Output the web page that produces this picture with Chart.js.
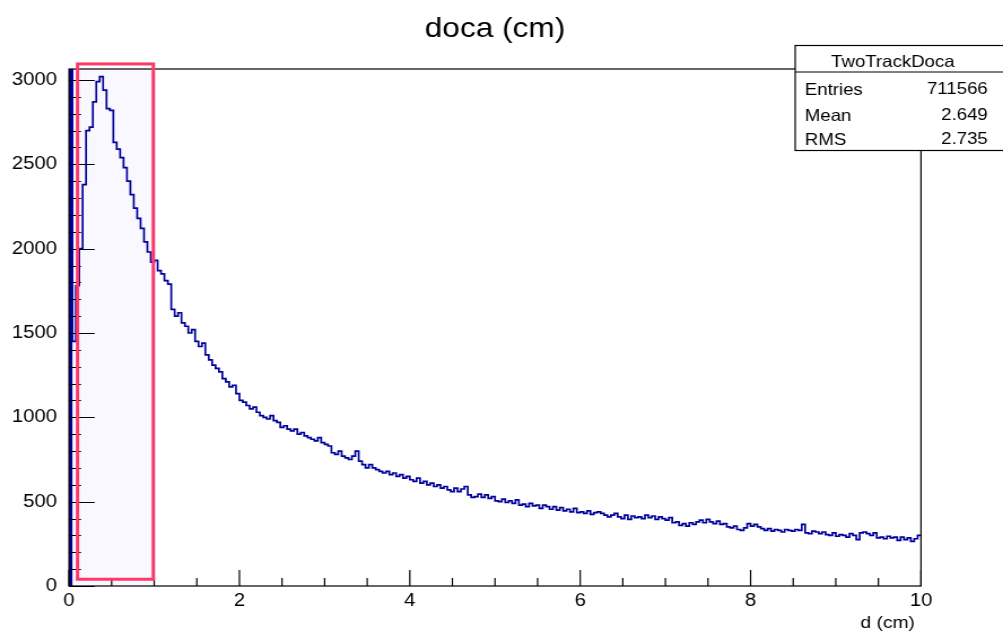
<!DOCTYPE html>
<html>
<head>
<meta charset="utf-8">
<script src="https://cdn.jsdelivr.net/npm/chart.js@4.4.0/dist/chart.umd.min.js"></script>
<style>
  html, body { margin: 0; padding: 0; background: #fff; overflow: hidden; }
  /* the original ROOT canvas was stretched wider than tall */
  #wrap { width: 888px; height: 633px; transform: scaleX(1.1295); transform-origin: 0 0; }
</style>
</head>
<body>
<div id="wrap"><canvas id="hist" width="888" height="633" style="width:888px;height:633px"></canvas></div>
<script>
const plotTitle = 'doca (cm)';
const xTitle = 'd (cm)';
const xMin = 0, xMax = 10;
const yMin = 0, yMax = 3065;
const xTickValues = [0, 2, 4, 6, 8, 10];
const yTickValues = [0, 500, 1000, 1500, 2000, 2500, 3000];

// bin contents, 250 bins of 0.04 cm (first bin runs off the top)
const counts = [
  6000, 1450, 1780, 2000, 2380, 2700, 2720, 2870, 2990, 3020, 2940, 2830, 2820, 2630, 2590, 2540, 2480, 2400, 2320, 2240, 2180, 2120, 2040, 1980, 1920,
  1930, 1870, 1850, 1810, 1790, 1640, 1600, 1620, 1560, 1540, 1500, 1520, 1450, 1420, 1440, 1370, 1340, 1310, 1290, 1270, 1230, 1210, 1180, 1190, 1140,
  1100, 1090, 1070, 1050, 1060, 1030, 1010, 1000, 990, 1010, 980, 970, 940, 950, 930, 920, 930, 900, 910, 890, 880, 870, 860, 880, 850,
  840, 830, 790, 780, 800, 770, 760, 750, 770, 800, 740, 720, 700, 720, 700, 690, 680, 670, 680, 660, 670, 650, 660, 640, 650,
  630, 620, 640, 610, 620, 600, 610, 590, 600, 580, 590, 570, 560, 580, 560, 575, 590, 540, 525, 530, 545, 525, 540, 520, 530,
  505, 500, 515, 495, 505, 490, 510, 480, 485, 470, 490, 475, 480, 460, 480, 470, 455, 470, 450, 465, 445, 455, 440, 460, 435,
  440, 430, 445, 425, 435, 440, 430, 420, 410, 420, 430, 410, 400, 420, 395, 415, 405, 410, 400, 420, 405, 415, 395, 410, 400,
  390, 405, 375, 380, 360, 370, 355, 375, 365, 380, 390, 375, 395, 380, 370, 385, 365, 370, 350, 345, 355, 335, 330, 345, 370,
  355, 365, 350, 340, 330, 340, 325, 335, 330, 320, 335, 330, 325, 335, 330, 365, 315, 310, 325, 320, 310, 320, 305, 300, 315,
  295, 305, 300, 290, 310, 300, 275, 315, 320, 310, 300, 315, 285, 290, 280, 295, 285, 290, 270, 290, 275, 285, 265, 280, 300
];

const statsName = 'TwoTrackDoca';
const statsLabels = ['Entries', 'Mean', 'RMS'];
const statsValues = ['711566', '2.649', '2.735'];

// shaded region and the highlight box drawn over it (data units)
const bandX = [0, 1];
const boxX = [0.1, 0.99];
const boxY = [40, 3095];

const lineColor = '#000099';
const binWidth = (xMax - xMin) / counts.length;

const points = counts.map((c, i) => ({ x: xMin + i * binWidth, y: c }));
points.push({ x: xMax, y: counts[counts.length - 1] });

const font = 'Liberation Sans, Arial, sans-serif';
Chart.defaults.font.family = font;
Chart.defaults.color = '#000';

const rootStyle = {
  id: 'rootStyle',
  beforeDatasetsDraw(chart) {
    const { ctx, chartArea: a, scales: { x, y } } = chart;
    ctx.save();
    ctx.fillStyle = '#f8f8fe';
    const b0 = x.getPixelForValue(bandX[0]), b1 = x.getPixelForValue(bandX[1]);
    ctx.fillRect(b0, a.top, b1 - b0, a.bottom - a.top);
    // off-scale first bin shows as a solid strip
    if (counts[0] > y.max) {
      ctx.fillStyle = lineColor;
      const s1 = x.getPixelForValue(xMin + binWidth);
      ctx.fillRect(a.left, a.top, s1 - a.left, a.bottom - a.top);
    }
    ctx.restore();
  },
  afterDatasetsDraw(chart) {
    const { ctx, chartArea: a, scales: { x, y } } = chart;
    ctx.save();
    ctx.strokeStyle = '#000';
    ctx.lineWidth = 1.2;
    ctx.strokeRect(a.left, a.top, a.right - a.left, a.bottom - a.top);
    ctx.beginPath();
    // ROOT style ticks on the inside: major every 500 / 2, minor every 100 / 0.5
    for (let v = yMin; v <= y.max; v += 100) {
      const py = Math.round(y.getPixelForValue(v)) + 0.5;
      const len = yTickValues.includes(v) ? 22.7 : 10.6;
      ctx.moveTo(a.left, py);
      ctx.lineTo(a.left + len, py);
    }
    for (let v = xMin; v <= xMax + 1e-9; v += 0.5) {
      const px = x.getPixelForValue(v);
      const len = xTickValues.includes(v) ? 16 : 8;
      ctx.moveTo(px, a.bottom);
      ctx.lineTo(px, a.bottom - len);
    }
    ctx.stroke();
    ctx.restore();
  },
  afterDraw(chart) {
    const { ctx, chartArea: a, scales: { x, y }, width } = chart;
    ctx.save();
    // title
    ctx.fillStyle = '#000';
    ctx.font = '28px ' + font;
    ctx.textAlign = 'center';
    ctx.textBaseline = 'alphabetic';
    ctx.fillText(plotTitle, (a.left + a.right) / 2, 37);

    // axis title
    ctx.font = '17px ' + font;
    ctx.textAlign = 'right';
    ctx.fillText(xTitle, 810, 628);

    // highlight box
    ctx.strokeStyle = '#fb3a6a';
    ctx.lineWidth = 3;
    const rx0 = x.getPixelForValue(boxX[0]), rx1 = x.getPixelForValue(boxX[1]);
    const ry0 = y.getPixelForValue(boxY[1]), ry1 = y.getPixelForValue(boxY[0]);
    ctx.strokeRect(rx0, ry0, rx1 - rx0, ry1 - ry0);

    // stats box
    const sx = 704, st = 45.5, sb = 150.5, sep = 72;
    ctx.fillStyle = '#fff';
    ctx.fillRect(sx, st, width - sx + 5, sb - st);
    ctx.strokeStyle = '#000';
    ctx.lineWidth = 1.2;
    ctx.strokeRect(sx, st, width - sx + 5, sb - st);
    ctx.beginPath();
    ctx.moveTo(sx, sep);
    ctx.lineTo(width, sep);
    ctx.stroke();
    ctx.fillStyle = '#000';
    ctx.font = '16.5px ' + font;
    ctx.textAlign = 'center';
    ctx.fillText(statsName, 790.5, 67);
    const rows = [95, 120.5, 145];
    statsLabels.forEach((lab, i) => {
      ctx.textAlign = 'left';
      ctx.fillText(lab, 712.5, rows[i]);
      ctx.textAlign = 'right';
      ctx.fillText(statsValues[i], 874.5, rows[i] - 1);
    });
    ctx.restore();
  }
};

new Chart(document.getElementById('hist'), {
  type: 'line',
  data: {
    datasets: [{
      data: points,
      stepped: 'before',
      borderColor: lineColor,
      borderWidth: 1.7,
      pointRadius: 0,
      fill: false,
      tension: 0
    }]
  },
  options: {
    responsive: false,
    animation: false,
    devicePixelRatio: 1,
    layout: { padding: { top: 69, right: 72.6, left: 0, bottom: 0 } },
    plugins: { legend: { display: false }, tooltip: { enabled: false }, title: { display: false } },
    scales: {
      x: {
        type: 'linear',
        min: xMin,
        max: xMax,
        grid: { display: false, drawTicks: false },
        border: { display: false },
        afterBuildTicks(scale) { scale.ticks = xTickValues.map(v => ({ value: v })); },
        ticks: { padding: 4, maxRotation: 0, autoSkip: false, font: { size: 18 }, color: '#000', callback: v => String(v) },
        afterFit(scale) { scale.height = 47; }
      },
      y: {
        type: 'linear',
        min: yMin,
        max: yMax,
        grid: { display: false, drawTicks: false },
        border: { display: false },
        afterBuildTicks(scale) { scale.ticks = yTickValues.map(v => ({ value: v })); },
        ticks: { padding: 10.6, autoSkip: false, font: { size: 18 }, color: '#000', callback: v => String(v) },
        afterFit(scale) { scale.width = 61.1; }
      }
    }
  },
  plugins: [rootStyle]
});
</script>
</body>
</html>
